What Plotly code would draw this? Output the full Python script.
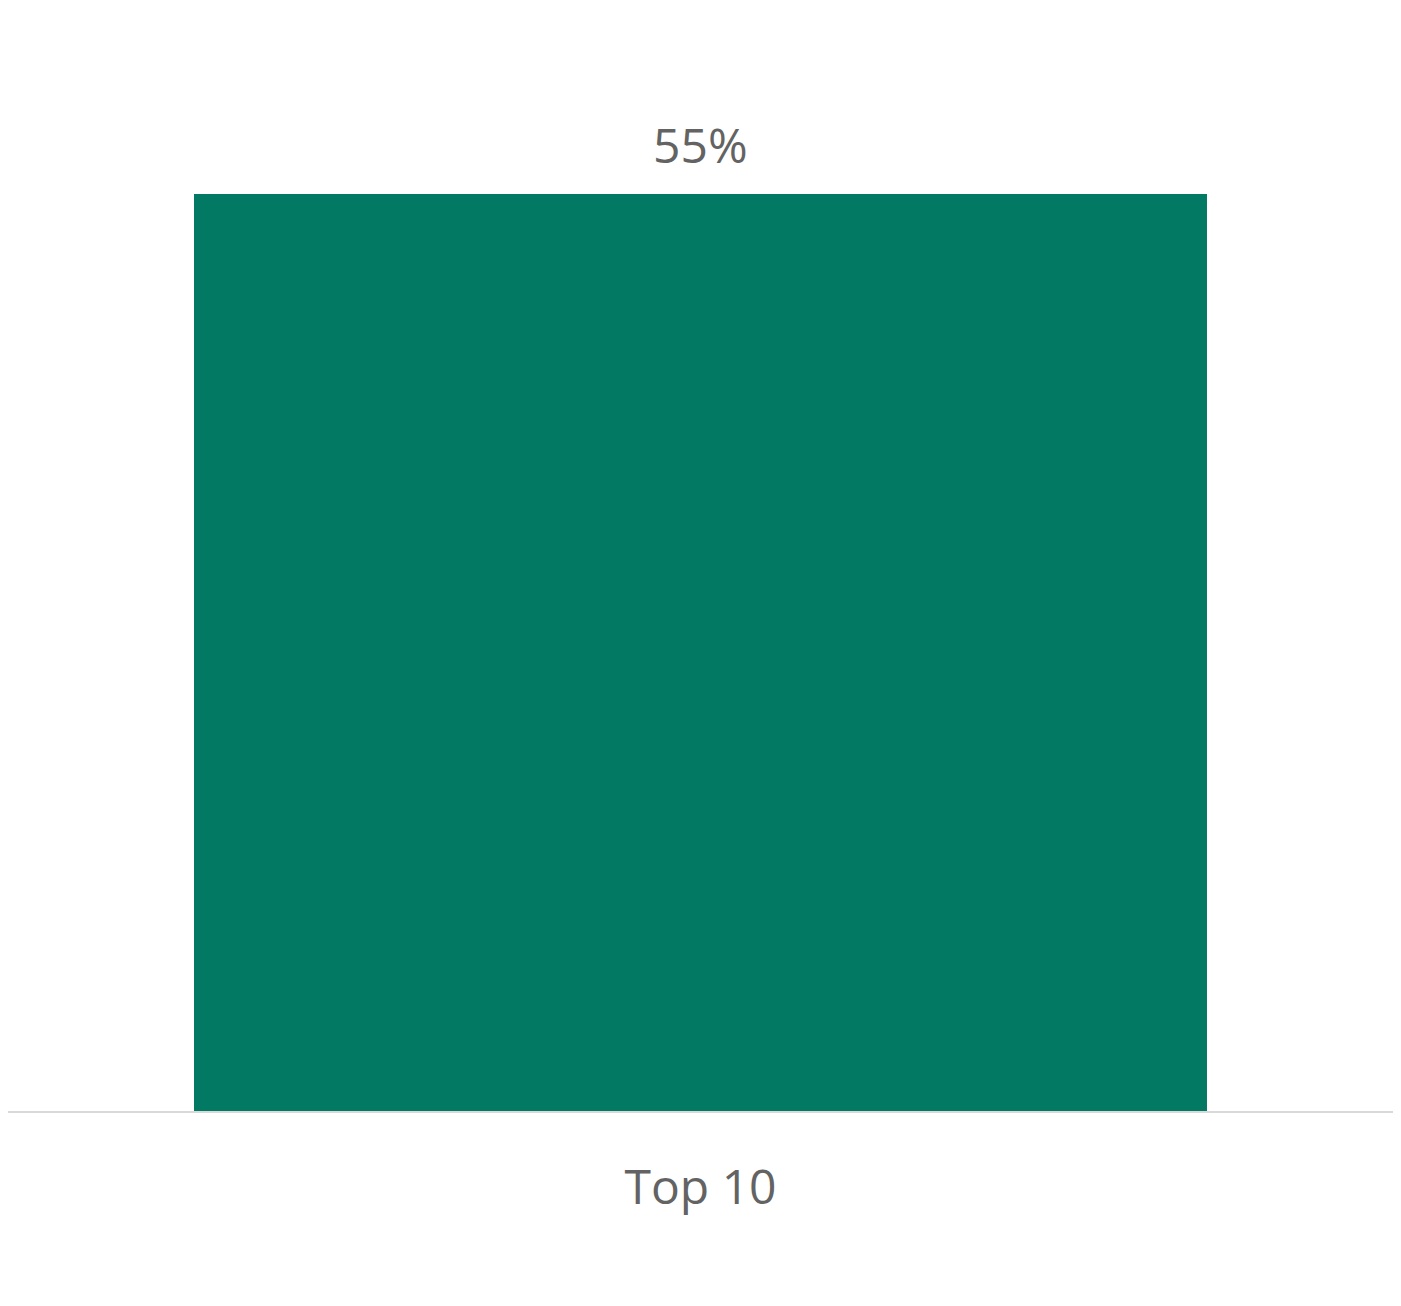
import plotly.graph_objects as go

categories = ["Top 10"]
values = [55]
labels = ["55%"]

fig = go.Figure()

# одна колонка
fig.add_trace(go.Bar(x=categories, y=values,
                     marker=dict(color="#027A63", line=dict(width=0)),
                     width=0.7314))

# подпись значения над колонкой
for c, v, t in zip(categories, values, labels):
    fig.add_annotation(x=c, y=v, text=t, showarrow=False,
                       yanchor="bottom", yshift=15,
                       font=dict(size=48, color="#636363"))

fig.update_layout(width=1385, height=1290,
                  margin=dict(l=0, r=0, t=0, b=187),
                  plot_bgcolor="white", paper_bgcolor="white",
                  font=dict(family="Open Sans", color="#636363"),
                  showlegend=False)

fig.update_xaxes(showline=True, linecolor="#d9d9d9", linewidth=2,
                 tickfont=dict(size=48, color="#636363"),
                 ticks="", ticklabelstandoff=33, showgrid=False)
fig.update_yaxes(range=[0, 66.156], visible=False, showgrid=False)

fig.write_html("out.html")
